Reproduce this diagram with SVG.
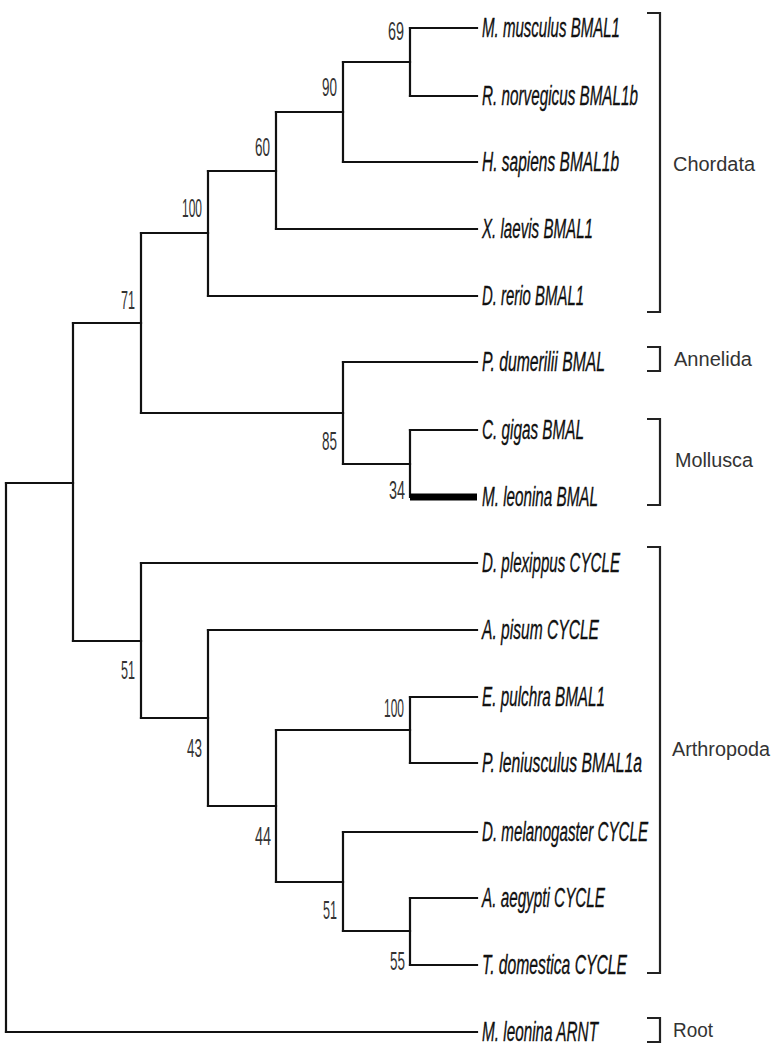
<svg xmlns="http://www.w3.org/2000/svg" width="778" height="1050" viewBox="0 0 778 1050">
<style>
.br{stroke:#111;stroke-width:2.2;fill:none;stroke-linecap:square}
.thick{stroke:#000;stroke-width:7;fill:none}
.bk{stroke:#222;stroke-width:2.2;fill:none}
.leaf{font-family:"Liberation Sans",Arial,sans-serif;font-style:italic;font-size:15.5px;fill:#111;stroke:#111;stroke-width:0.2}
.bs{font-family:"Liberation Sans",Arial,sans-serif;font-size:14.5px;fill:#333;text-anchor:end}
.cl{font-family:"Liberation Sans",Arial,sans-serif;font-size:19.5px;fill:#333}
</style>
<rect width="778" height="1050" fill="#fff"/>
<g id="connectors">
<path class="br" d="M410 28V96 M343 62V162 M276 112V229 M208 171V296 M410 430V497 M343 362V464 M141 233V413 M410 898V965 M343 832V931 M410 697V763 M276 730V882 M208 630V806 M141 563V718 M73 323V641 M6 483V1032"/>
<path class="br" d="M410 28H477 M410 96H477 M343 62H410 M343 162H477 M276 112H343 M276 229H477 M208 171H276 M208 296H477 M141 233H208 M343 464H410 M343 362H477 M410 430H477 M141 413H343 M73 323H141 M410 898H477 M410 965H477 M343 832H477 M343 931H410 M410 697H477 M410 763H477 M276 730H410 M276 882H343 M208 630H477 M208 806H276 M141 563H477 M141 718H208 M73 641H141 M6 483H73 M6 1032H477"/>
<path class="thick" d="M410 497H477"/>
</g>
<g id="leaves">
<g id="leaf-mmusculus"><text class="leaf" transform="translate(482 37) scale(1 1.75)" textLength="138" lengthAdjust="spacingAndGlyphs">M. musculus BMAL1</text></g>
<g id="leaf-rnorvegicus"><text class="leaf" transform="translate(482 105) scale(1 1.75)" textLength="156" lengthAdjust="spacingAndGlyphs">R. norvegicus BMAL1b</text></g>
<g id="leaf-hsapiens"><text class="leaf" transform="translate(482 171) scale(1 1.75)" textLength="137" lengthAdjust="spacingAndGlyphs">H. sapiens BMAL1b</text></g>
<g id="leaf-xlaevis"><text class="leaf" transform="translate(482 238) scale(1 1.75)" textLength="111" lengthAdjust="spacingAndGlyphs">X. laevis BMAL1</text></g>
<g id="leaf-drerio"><text class="leaf" transform="translate(482 305) scale(1 1.75)" textLength="102" lengthAdjust="spacingAndGlyphs">D. rerio BMAL1</text></g>
<g id="leaf-pdumerilii"><text class="leaf" transform="translate(482 371) scale(1 1.75)" textLength="123" lengthAdjust="spacingAndGlyphs">P. dumerilii BMAL</text></g>
<g id="leaf-cgigas"><text class="leaf" transform="translate(482 439) scale(1 1.75)" textLength="102" lengthAdjust="spacingAndGlyphs">C. gigas BMAL</text></g>
<g id="leaf-mleonina-bmal"><text class="leaf" transform="translate(482 506) scale(1 1.75)" textLength="116" lengthAdjust="spacingAndGlyphs">M. leonina BMAL</text></g>
<g id="leaf-dplexippus"><text class="leaf" transform="translate(482 572) scale(1 1.75)" textLength="138" lengthAdjust="spacingAndGlyphs">D. plexippus CYCLE</text></g>
<g id="leaf-apisum"><text class="leaf" transform="translate(482 639) scale(1 1.75)" textLength="117" lengthAdjust="spacingAndGlyphs">A. pisum CYCLE</text></g>
<g id="leaf-epulchra"><text class="leaf" transform="translate(482 706) scale(1 1.75)" textLength="123" lengthAdjust="spacingAndGlyphs">E. pulchra BMAL1</text></g>
<g id="leaf-pleniusculus"><text class="leaf" transform="translate(482 772) scale(1 1.75)" textLength="160" lengthAdjust="spacingAndGlyphs">P. leniusculus BMAL1a</text></g>
<g id="leaf-dmelanogaster"><text class="leaf" transform="translate(482 841) scale(1 1.75)" textLength="166" lengthAdjust="spacingAndGlyphs">D. melanogaster CYCLE</text></g>
<g id="leaf-aaegypti"><text class="leaf" transform="translate(482 907) scale(1 1.75)" textLength="123" lengthAdjust="spacingAndGlyphs">A. aegypti CYCLE</text></g>
<g id="leaf-tdomestica"><text class="leaf" transform="translate(482 974) scale(1 1.75)" textLength="145" lengthAdjust="spacingAndGlyphs">T. domestica CYCLE</text></g>
<g id="leaf-mleonina-arnt"><text class="leaf" transform="translate(482 1041) scale(1 1.75)" textLength="116" lengthAdjust="spacingAndGlyphs">M. leonina ARNT</text></g>
</g>
<g id="bootstrap">
<g id="n69"><text class="bs" transform="translate(404 40) scale(1 1.72)" textLength="16" lengthAdjust="spacingAndGlyphs">69</text></g>
<g id="n90"><text class="bs" transform="translate(337 96) scale(1 1.72)" textLength="15" lengthAdjust="spacingAndGlyphs">90</text></g>
<g id="n60"><text class="bs" transform="translate(270 156) scale(1 1.72)" textLength="15" lengthAdjust="spacingAndGlyphs">60</text></g>
<g id="n100a"><text class="bs" transform="translate(202 217) scale(1 1.72)" textLength="20" lengthAdjust="spacingAndGlyphs">100</text></g>
<g id="n71"><text class="bs" transform="translate(135 309) scale(1 1.72)" textLength="14" lengthAdjust="spacingAndGlyphs">71</text></g>
<g id="n85"><text class="bs" transform="translate(337 450) scale(1 1.72)" textLength="15" lengthAdjust="spacingAndGlyphs">85</text></g>
<g id="n34"><text class="bs" transform="translate(405 499) scale(1 1.72)" textLength="16" lengthAdjust="spacingAndGlyphs">34</text></g>
<g id="n51a"><text class="bs" transform="translate(135 679) scale(1 1.72)" textLength="14" lengthAdjust="spacingAndGlyphs">51</text></g>
<g id="n100b"><text class="bs" transform="translate(404 717) scale(1 1.72)" textLength="20" lengthAdjust="spacingAndGlyphs">100</text></g>
<g id="n43"><text class="bs" transform="translate(202 757) scale(1 1.72)" textLength="15" lengthAdjust="spacingAndGlyphs">43</text></g>
<g id="n44"><text class="bs" transform="translate(271 845) scale(1 1.72)" textLength="16" lengthAdjust="spacingAndGlyphs">44</text></g>
<g id="n51b"><text class="bs" transform="translate(337 919) scale(1 1.72)" textLength="14" lengthAdjust="spacingAndGlyphs">51</text></g>
<g id="n55"><text class="bs" transform="translate(405 970) scale(1 1.72)" textLength="15" lengthAdjust="spacingAndGlyphs">55</text></g>
</g>
<g id="clade-brackets">
<path class="bk" d="M647 13H660V312H647 M647 347H660V371H647 M647 419H660V505H647 M647 547H660V973H647 M647 1018H660V1042H647"/>
</g>
<g id="clade-labels">
<g id="clade-chordata"><text class="cl" x="673" y="171" textLength="82" lengthAdjust="spacingAndGlyphs">Chordata</text></g>
<g id="clade-annelida"><text class="cl" x="674" y="366" textLength="78" lengthAdjust="spacingAndGlyphs">Annelida</text></g>
<g id="clade-mollusca"><text class="cl" x="675" y="467" textLength="78" lengthAdjust="spacingAndGlyphs">Mollusca</text></g>
<g id="clade-arthropoda"><text class="cl" x="672" y="756" textLength="98" lengthAdjust="spacingAndGlyphs">Arthropoda</text></g>
<g id="clade-root"><text class="cl" x="673" y="1037" textLength="40" lengthAdjust="spacingAndGlyphs">Root</text></g>
</g>
</svg>
